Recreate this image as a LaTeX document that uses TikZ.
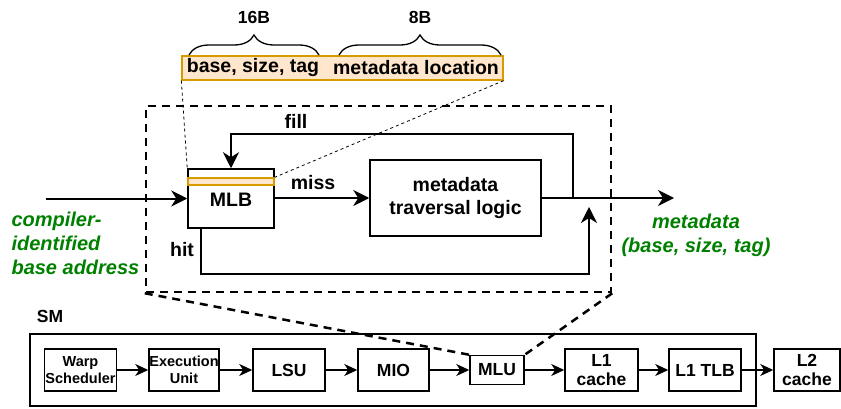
\documentclass[tikz,border=0pt]{standalone}
\usepackage{fontspec}
\setmainfont{Liberation Sans}
\usetikzlibrary{arrows.meta,decorations.pathreplacing,calc}
\definecolor{gfont}{HTML}{008000}
\definecolor{orfill}{HTML}{FFE6CC}
\definecolor{ordraw}{HTML}{D79B00}
\tikzset{
  big/.style={font=\fontsize{19.5}{23.5}\selectfont\bfseries},
  mid/.style={font=\fontsize{17.5}{19.5}\selectfont\bfseries},
  sml/.style={font=\fontsize{14.5}{17}\selectfont\bfseries},
  box/.style={draw, line width=1.5pt, inner sep=0pt, align=center},
  sbox/.style={draw, line width=1.5pt, inner sep=0pt, align=center, minimum height=42pt},
  arr/.style={line width=2pt, -{Stealth[length=16pt,width=16pt,inset=5pt]}},
  sarr/.style={line width=1.6pt, -{Stealth[length=13pt,width=12pt,inset=4pt]}},
  bigdash/.style={line width=2.5pt, dash pattern=on 8pt off 6pt},
  thindash/.style={line width=0.8pt, dash pattern=on 3pt off 3pt},
  glab/.style={text=gfont, font=\fontsize{20}{24}\selectfont\bfseries\itshape},
  bracestyle/.style={line width=1.3pt, decorate, decoration={brace, amplitude=20pt}},
}
\begin{document}
\begin{tikzpicture}[x=1pt,y=-1pt]
\useasboundingbox (0,0) rectangle (841,409);

% top bar
\node[draw=ordraw, fill=orfill, line width=1.3pt, minimum width=321pt, minimum height=24pt, inner sep=0pt] (bar) at (342.5,68) {};
\node[big] (t1) at (253,68) {base, size, tag};
\node[big] (t2) at (416,68) {metadata location};
\draw[bracestyle] (189,55) -- (319,55);
\draw[bracestyle] (339,55) -- (501,55);
\node[mid] (b16) at (254,17) {16B};
\node[mid] (b8) at (420,17) {8B};

% dashed box
\node[bigdash, draw, minimum width=465pt, minimum height=186pt, inner sep=0pt] (dbox) at (378.5,199) {};

% MLB
\node[box, fill=white, minimum width=86pt, minimum height=59pt] (MLB) at (231,198.5) {};
\node[draw=ordraw, fill=orfill, line width=1.3pt, minimum width=86pt, minimum height=7pt, inner sep=0pt] (strip) at (231,181.5) {};
\node[big] (mlbt) at (231,200) {MLB};

% MTL
\node[box, big, minimum width=171pt, minimum height=76pt] (MTL) at (455.5,198) {metadata\\traversal logic};

% connectors
\coordinate (inp) at (46,198.5);
\draw[arr] (inp) -- (MLB.west);
\draw[arr] (MLB.east |- MTL.west) -- (MTL.west);
\coordinate (outend) at (674,198);
\draw[arr] (MTL.east) -- (outend);
\coordinate (fj) at (573,198);
\coordinate (ft) at (573,134);
\draw[arr] (fj) -- (ft) -| (MLB.north);
\coordinate (hb) at (589,274);
\coordinate (hitend) at (589,207);
\draw[arr] ([xshift=-30pt]MLB.south) |- (hb) -- (hitend);

\node[big] (fill) at (296,121) {fill};
\node[big] (miss) at (313,183) {miss};
\node[big] (hit) at (182,250) {hit};

\node[glab, align=left, anchor=west] (gin) at (8,243) {compiler-\\identified\\base address};
\node[glab, align=center] (gout) at (696,235) {metadata\\(base, size, tag)};

% bar to MLB
\draw[thindash] (bar.south west) -- (MLB.north west);
\draw[thindash] (bar.south east) -- (strip.north east);

% SM
\node[mid] (smlab) at (50,316) {SM};
\node[draw, line width=1.5pt, minimum width=726pt, minimum height=72pt, inner sep=0pt] (SM) at (393,370) {};
\node[sbox, sml, minimum width=72pt] (warp) at (80.5,370) {Warp\\Scheduler};
\node[sbox, sml, minimum width=70pt] (exec) at (184,370) {Execution\\Unit};
\node[sbox, mid, minimum width=72pt] (lsu) at (289,370) {LSU};
\node[sbox, mid, minimum width=71pt] (mio) at (393.5,370) {MIO};
\node[box, mid, minimum width=54pt, minimum height=29pt] (mlu) at (497,370) {MLU};
\node[sbox, mid, minimum width=73pt] (l1) at (601.5,370) {L1\\cache};
\node[sbox, mid, minimum width=72pt] (tlb) at (705,370) {L1 TLB};
\node[sbox, mid, minimum width=66pt] (l2) at (807,370) {L2\\cache};

\draw[sarr] (warp) -- (exec);
\draw[sarr] (exec) -- (lsu);
\draw[sarr] (lsu) -- (mio);
\draw[sarr] (mio) -- (mlu);
\draw[sarr] (mlu) -- (l1);
\draw[sarr] (l1) -- (tlb);
\draw[sarr] (tlb) -- (l2);

\draw[bigdash] (dbox.south west) -- (mlu.north west);
\draw[bigdash] (dbox.south east) -- (mlu.north east);
\end{tikzpicture}
\end{document}
